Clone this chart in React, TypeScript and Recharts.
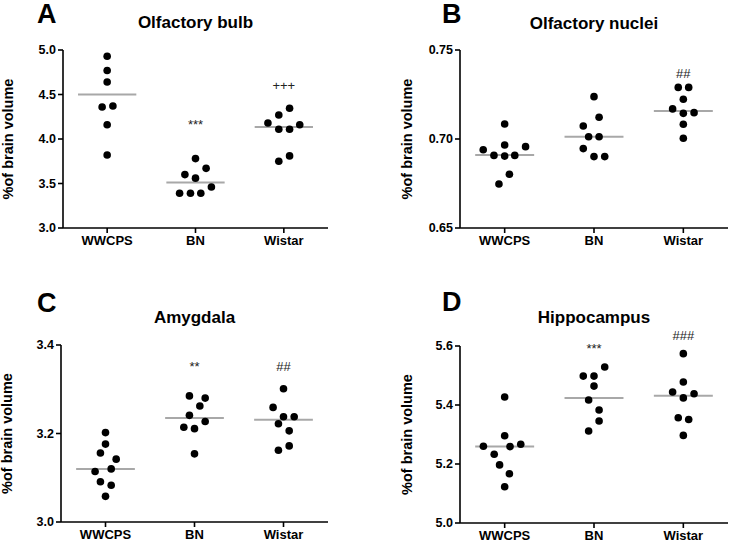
import React from 'react';
import {
  ScatterChart, Scatter, XAxis, YAxis, ReferenceLine, ReferenceDot,
} from 'recharts';

const FONT = 'Arial, "Liberation Sans", sans-serif';

const groups = ['WWCPS', 'BN', 'Wistar'];

// A - olfactory bulb
const bulbValues = [
  [4.93, 4.77, 4.64, 4.36, 4.37, 4.16, 3.82],
  [3.78, 3.6, 3.56, 3.67, 3.39, 3.39, 3.39, 3.46],
  [4.345, 4.27, 4.18, 4.11, 4.11, 4.16, 3.75, 3.81],
];
const bulbJitter = [
  [0, 0, 0, -0.057, 0.065, 0, 0],
  [0, -0.12, 0, 0.12, -0.18, -0.057, 0.06, 0.18],
  [0.065, -0.057, -0.18, -0.057, 0.065, 0.18, -0.057, 0.065],
];
const bulbMeans = [4.5, 3.51, 4.135];
const bulbNotes = ['', '***', '+++'];
const bulbNoteY = [0, 4.16, 4.6];
const bulbTicks = [3.0, 3.5, 4.0, 4.5, 5.0];

// B - olfactory nuclei
const nucleiValues = [
  [0.7084, 0.694, 0.6966, 0.6957, 0.6908, 0.6904, 0.6908, 0.6802, 0.6747],
  [0.7238, 0.7122, 0.7073, 0.7013, 0.7013, 0.6946, 0.6901, 0.6901],
  [0.729, 0.729, 0.7223, 0.7169, 0.7144, 0.7148, 0.7083, 0.7004],
];
const nucleiJitter = [
  [0, -0.24, 0, 0.234, -0.12, 0, 0.113, 0.053, -0.064],
  [0, 0.057, -0.12, -0.06, 0.057, -0.12, 0, 0.12],
  [-0.057, 0.06, 0, -0.12, 0, 0.12, 0, 0],
];
const nucleiMeans = [0.691, 0.7013, 0.7157];
const nucleiNotes = ['', '', '##'];
const nucleiNoteY = [0, 0, 0.737];
const nucleiTicks = [0.65, 0.7, 0.75];

// C - amygdala
const amygValues = [
  [3.202, 3.176, 3.156, 3.142, 3.12, 3.114, 3.091, 3.083, 3.058],
  [3.285, 3.28, 3.262, 3.241, 3.227, 3.214, 3.211, 3.154],
  [3.301, 3.259, 3.238, 3.238, 3.222, 3.206, 3.162, 3.172],
];
const amygJitter = [
  [0, 0, -0.057, 0.12, 0.064, -0.117, -0.057, 0.064, 0],
  [-0.057, 0.12, 0.06, -0.057, 0.12, -0.12, 0, 0],
  [0, -0.117, 0, 0.12, -0.057, 0.064, -0.057, 0.064],
];
const amygMeans = [3.12, 3.235, 3.231];
const amygNotes = ['', '**', '##'];
const amygNoteY = [0, 3.351, 3.351];
const amygTicks = [3.0, 3.2, 3.4];

// D - hippocampus
const hippoValues = [
  [5.427, 5.296, 5.26, 5.259, 5.267, 5.233, 5.197, 5.167, 5.123],
  [5.529, 5.498, 5.498, 5.464, 5.417, 5.383, 5.346, 5.312],
  [5.574, 5.478, 5.444, 5.438, 5.424, 5.357, 5.351, 5.297],
];
const hippoJitter = [
  [0, 0, -0.238, 0.06, 0.18, -0.117, -0.057, 0.053, 0],
  [0.12, -0.12, 0, 0, -0.06, 0.057, 0.057, -0.06],
  [0, 0, -0.12, 0.12, 0, -0.057, 0.06, 0],
];
const hippoMeans = [5.259, 5.424, 5.431];
const hippoNotes = ['', '***', '###'];
const hippoNoteY = [0, 5.593, 5.636];
const hippoTicks = [5.0, 5.2, 5.4, 5.6];

interface PanelProps {
  letter: string;
  title: string;
  values: number[][];
  jitter: number[][];
  means: number[];
  notes: string[];
  noteY: number[];
  ticks: number[];
  digits: number;
  left: number;
  top: number;
  width: number;
  height: number;
  marginTop: number;
  marginRight: number;
  yAxisWidth: number;
  xAxisHeight: number;
  labelX: number;
  letterX: number;
  letterY: number;
  titleY: number;
}

const Dot = (p: any) => <circle cx={p.cx} cy={p.cy} r={3.8} fill="#000" />;

function Panel(props: PanelProps) {
  const {
    letter, title, values, jitter, means, notes, noteY, ticks, digits,
    left, top, width, height, marginTop, marginRight, yAxisWidth, xAxisHeight,
    labelX, letterX, letterY, titleY,
  } = props;

  const points = groups.flatMap((_, i) =>
    values[i].map((v, k) => ({ x: i + jitter[i][k], y: v })));

  const plotLeft = yAxisWidth;
  const plotRight = width - marginRight;
  const plotTop = marginTop;
  const plotBottom = height - xAxisHeight;
  const labelY = (plotTop + plotBottom) / 2;

  return (
    <div style={{ position: 'absolute', left, top, width, height }}>
      <ScatterChart
        width={width}
        height={height}
        margin={{ top: marginTop, right: marginRight, bottom: 0, left: 0 }}
      >
        <XAxis
          type="number"
          dataKey="x"
          domain={[-0.5, 2.5]}
          ticks={[0, 1, 2]}
          tickFormatter={(i: number) => groups[i]}
          height={xAxisHeight}
          stroke="#000"
          strokeWidth={1.6}
          tickSize={5}
          tickMargin={3}
          tick={{ fill: '#000', fontSize: 13, fontWeight: 700, fontFamily: FONT }}
        />
        <YAxis
          type="number"
          dataKey="y"
          domain={[ticks[0], ticks[ticks.length - 1]]}
          ticks={ticks}
          tickFormatter={(v: number) => v.toFixed(digits)}
          width={yAxisWidth}
          stroke="#000"
          strokeWidth={1.6}
          tickSize={5}
          tickMargin={2}
          tick={{ fill: '#000', fontSize: 12.5, fontWeight: 700, fontFamily: FONT }}
        />
        {means.map((m, i) => (
          <ReferenceLine
            key={'m' + i}
            segment={[{ x: i - 0.33, y: m }, { x: i + 0.33, y: m }]}
            stroke="#a8a8a8"
            strokeWidth={2}
          />
        ))}
        <Scatter data={points} shape={Dot} isAnimationActive={false} />
        {notes.map((n, i) => n ? (
          <ReferenceDot
            key={'n' + i}
            x={i}
            y={noteY[i]}
            r={0.1}
            fill="none"
            stroke="none"
            ifOverflow="visible"
            label={{ value: n, position: 'center', fill: '#222', fontSize: 13, fontFamily: FONT }}
          />
        ) : null)}
      </ScatterChart>
      <svg
        width={width}
        height={height}
        style={{ position: 'absolute', left: 0, top: 0, pointerEvents: 'none' }}
      >
        <text x={letterX} y={letterY} fontSize={27} fontWeight={700} fontFamily={FONT} fill="#000">
          {letter}
        </text>
        <text
          x={(plotLeft + plotRight) / 2}
          y={titleY}
          fontSize={17}
          fontWeight={700}
          fontFamily={FONT}
          fill="#000"
          textAnchor="middle"
        >
          {title}
        </text>
        <text
          x={labelX}
          y={labelY}
          fontSize={14.5}
          fontWeight={700}
          fontFamily={FONT}
          fill="#000"
          textAnchor="middle"
          dominantBaseline="central"
          transform={`rotate(-90 ${labelX} ${labelY})`}
        >
          %of brain volume
        </text>
      </svg>
    </div>
  );
}

export default function App() {
  return (
    <div style={{ position: 'absolute', left: 0, top: 0, width: 729, height: 542, background: '#fff' }}>
      <Panel
        letter="A" title="Olfactory bulb"
        values={bulbValues} jitter={bulbJitter} means={bulbMeans}
        notes={bulbNotes} noteY={bulbNoteY} ticks={bulbTicks} digits={1}
        left={0} top={0} width={340} height={260}
        marginTop={50} marginRight={12} yAxisWidth={63} xAxisHeight={32}
        labelX={8} letterX={37} letterY={23} titleY={28}
      />
      <Panel
        letter="B" title="Olfactory nuclei"
        values={nucleiValues} jitter={nucleiJitter} means={nucleiMeans}
        notes={nucleiNotes} noteY={nucleiNoteY} ticks={nucleiTicks} digits={2}
        left={360} top={0} width={369} height={260}
        marginTop={50} marginRight={1} yAxisWidth={100} xAxisHeight={32}
        labelX={47} letterX={82} letterY={23} titleY={29}
      />
      <Panel
        letter="C" title="Amygdala"
        values={amygValues} jitter={amygJitter} means={amygMeans}
        notes={amygNotes} noteY={amygNoteY} ticks={amygTicks} digits={1}
        left={0} top={270} width={340} height={272}
        marginTop={75} marginRight={12} yAxisWidth={61} xAxisHeight={20}
        labelX={7} letterX={37} letterY={42} titleY={53}
      />
      <Panel
        letter="D" title="Hippocampus"
        values={hippoValues} jitter={hippoJitter} means={hippoMeans}
        notes={hippoNotes} noteY={hippoNoteY} ticks={hippoTicks} digits={1}
        left={360} top={270} width={369} height={272}
        marginTop={76} marginRight={1} yAxisWidth={100} xAxisHeight={19}
        labelX={47} letterX={82} letterY={41} titleY={53}
      />
    </div>
  );
}
